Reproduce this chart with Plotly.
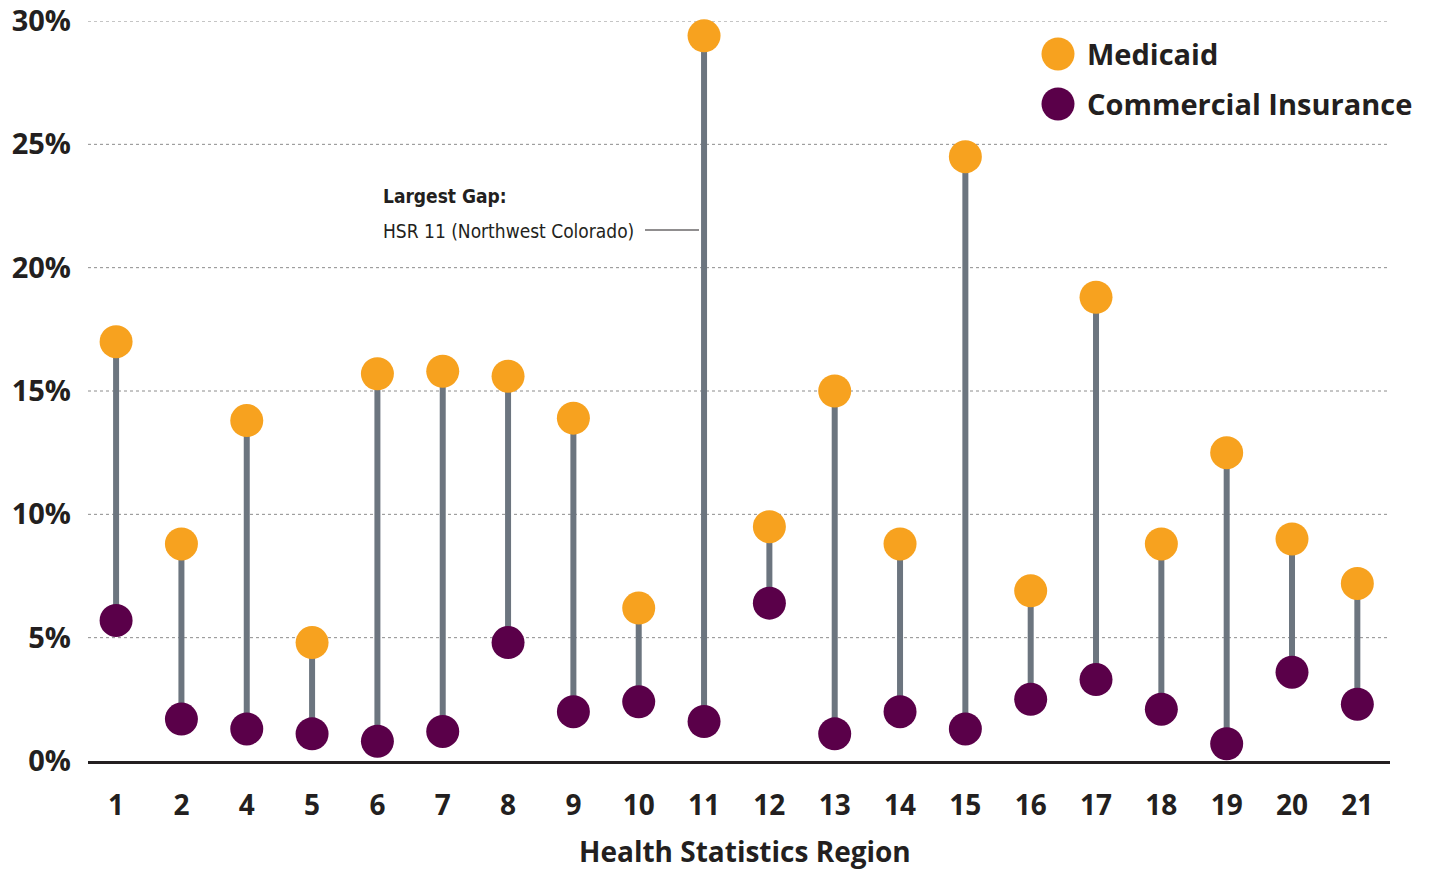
import plotly.graph_objects as go

regions = ["1", "2", "4", "5", "6", "7", "8", "9", "10", "11", "12",
           "13", "14", "15", "16", "17", "18", "19", "20", "21"]
medicaid = [17.0, 8.8, 13.8, 4.8, 15.7, 15.8, 15.6, 13.9, 6.2, 29.4, 9.5,
            15.0, 8.8, 24.5, 6.9, 18.8, 8.8, 12.5, 9.0, 7.2]
commercial = [5.7, 1.7, 1.3, 1.1, 0.8, 1.2, 4.8, 2.0, 2.4, 1.6, 6.4,
              1.1, 2.0, 1.3, 2.5, 3.3, 2.1, 0.7, 3.6, 2.3]
y_ticks = [0, 5, 10, 15, 20, 25, 30]
y_labels = ["0%", "5%", "10%", "15%", "20%", "25%", "30%"]

ORANGE = "#F7A21F"
PURPLE = "#5A0049"
STEM = "#6C757F"
INK = "#231F20"
GRID = "#8c8c8c"

W, H = 1429, 871
L, R, T, B = 88, 39, 21, 110

idx = list(range(len(regions)))

# vertical stems joining each pair of dots
sx, sy = [], []
for i in idx:
    sx += [i, i, None]
    sy += [commercial[i], medicaid[i], None]

fig = go.Figure()
fig.add_trace(go.Scatter(x=sx, y=sy, mode="lines",
                         line=dict(color=STEM, width=6),
                         hoverinfo="skip", showlegend=False, cliponaxis=False))
fig.add_trace(go.Scatter(x=idx, y=commercial, mode="markers", name="Commercial Insurance",
                         marker=dict(color=PURPLE, size=33, line=dict(width=0)),
                         showlegend=False, cliponaxis=False))
fig.add_trace(go.Scatter(x=idx, y=medicaid, mode="markers", name="Medicaid",
                         marker=dict(color=ORANGE, size=33, line=dict(width=0)),
                         showlegend=False, cliponaxis=False))

fig.update_xaxes(range=[-0.43, 19.5], tickmode="array", tickvals=idx, ticktext=regions,
                 showgrid=False, zeroline=False, showline=True, automargin=False,
                 linecolor=INK, linewidth=2.5, ticks="", ticklabelstandoff=18,
                 tickfont=dict(family="Open Sans", size=28, color=INK, weight=700))
fig.update_yaxes(range=[0, 30], tickmode="array", tickvals=y_ticks, ticktext=y_labels,
                 showgrid=False, zeroline=False, showline=False, automargin=False,
                 ticks="", ticklabelstandoff=16,
                 tickfont=dict(family="Open Sans", size=29, color=INK, weight=700))

# dotted horizontal gridlines (drawn as shapes so the 30% line shows too)
for v in y_ticks[1:]:
    fig.add_shape(type="line", xref="paper", yref="y", x0=0, x1=0.9985, y0=v, y1=v,
                  line=dict(color=GRID, width=1, dash="dot"), layer="below")


def px_x(p):
    return (p - L) / (W - L - R)


def px_y(p):
    return 1 - (p - T) / (H - T - B)


# legend drawn by hand so the swatches match the dot size
legend_items = [("Medicaid", ORANGE, 54), ("Commercial Insurance", PURPLE, 104)]
for label, color, yy in legend_items:
    fig.add_shape(type="circle", xref="paper", yref="paper",
                  xsizemode="pixel", ysizemode="pixel",
                  xanchor=px_x(1058), yanchor=px_y(yy),
                  x0=-16.5, x1=16.5, y0=-16.5, y1=16.5,
                  fillcolor=color, line=dict(width=0))
    fig.add_annotation(xref="paper", yref="paper", x=px_x(1085), y=px_y(yy),
                       xanchor="left", yanchor="middle", showarrow=False,
                       text=label,
                       font=dict(family="Open Sans", size=29, color=INK, weight=700))

# callout for the widest gap
CALLOUT_FONT = "DejaVu Sans Condensed, Liberation Sans Narrow, Roboto"
fig.add_annotation(xref="paper", yref="paper", x=px_x(381), y=px_y(196),
                   xanchor="left", yanchor="middle", showarrow=False,
                   text="Largest Gap:",
                   font=dict(family=CALLOUT_FONT, size=19, color=INK, weight=700))
fig.add_annotation(xref="paper", yref="paper", x=px_x(381), y=px_y(231),
                   xanchor="left", yanchor="middle", showarrow=False,
                   text="HSR 11 (Northwest Colorado)",
                   font=dict(family=CALLOUT_FONT, size=19, color=INK))
fig.add_shape(type="line", xref="paper", yref="paper",
              x0=px_x(645), x1=px_x(699), y0=px_y(230), y1=px_y(230),
              line=dict(color=INK, width=1.2))

# axis title
fig.add_annotation(xref="paper", yref="paper", x=px_x(745), y=px_y(851),
                   xanchor="center", yanchor="middle", showarrow=False,
                   text="Health Statistics Region",
                   font=dict(family="Open Sans", size=28, color=INK, weight=700))

fig.update_layout(width=W, height=H, margin=dict(l=L, r=R, t=T, b=B),
                  paper_bgcolor="white", plot_bgcolor="white", showlegend=False)

fig.write_html("out.html")
